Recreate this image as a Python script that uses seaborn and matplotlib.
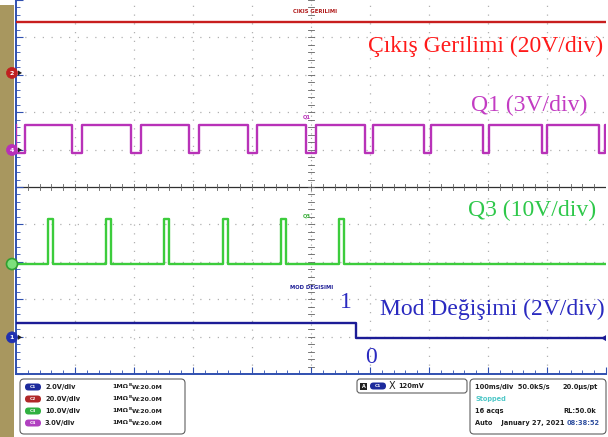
import numpy as np
import pandas as pd
import matplotlib
matplotlib.use("Agg")
import matplotlib.pyplot as plt
from matplotlib.patches import FancyBboxPatch, Circle, Polygon, Rectangle
import seaborn as sns

# ---------------- data (in screen divisions) ----------------
channels = ["C2", "C4", "C3", "C1"]
red_level = 4.41
q1_high = 1.66
q1_low = 0.91
q1_low_intervals = [(0.0, 0.15), (0.95, 1.12), (1.95, 2.12), (2.93, 3.10), (3.93, 4.08),
                    (4.92, 5.08), (5.92, 6.05), (6.92, 7.03), (7.915, 8.02), (8.92, 9.0),
                    (9.88, 9.98)]
q3_base = -2.06
q3_high = -0.86
q3_pulses = [(0.54, 0.63), (1.53, 1.61), (2.51, 2.59), (3.51, 3.59), (4.49, 4.58), (5.47, 5.56)]
mod_high = -3.64
mod_low = -4.04
mod_switch = 5.76
marker_levels = {"C2": 3.05, "C4": 0.99, "C3": -2.06, "C1": -4.02}
scale_labels = ["2.0V/div", "20.0V/div", "10.0V/div", "3.0V/div"]

# ---------------- build traces ----------------
def square(base, active, intervals, t0=0.0, t1=10.0):
    t = [t0]
    v = [base]
    for a, b in intervals:
        t += [a, a, b, b]
        v += [base, active, active, base]
    t.append(t1)
    v.append(base)
    return t, v

frames = []
t, v = [0.0, 10.0], [red_level, red_level]
frames.append(pd.DataFrame({"t": t, "v": v, "ch": "C2"}))
t, v = square(q1_high, q1_low, q1_low_intervals)
frames.append(pd.DataFrame({"t": t, "v": v, "ch": "C4"}))
t, v = square(q3_base, q3_high, q3_pulses)
frames.append(pd.DataFrame({"t": t, "v": v, "ch": "C3"}))
t, v = [0.0, mod_switch, mod_switch, 10.0], [mod_high, mod_high, mod_low, mod_low]
frames.append(pd.DataFrame({"t": t, "v": v, "ch": "C1"}))
df = pd.concat(frames, ignore_index=True)

palette = {"C2": "#c81e1e", "C4": "#b832b8", "C3": "#3ccc3c", "C1": "#1c1c96"}

W, H = 608, 437
fig = plt.figure(figsize=(W / 100, H / 100), dpi=100)
fig.patch.set_facecolor("white")

L, R, T, B = 16, 606, 0, 374
ax = fig.add_axes([L / W, 1 - B / H, (R - L) / W, (B - T) / H])
ax.set_xlim(0, 10)
ax.set_ylim(-5, 5)
ax.set_facecolor("white")

# grid
for k in range(1, 10):
    if k != 5:
        ax.axvline(k, color="#b0b0b0", lw=0.9, ls=(0, (1, 6)), zorder=0)
        ax.axhline(k - 5, color="#b0b0b0", lw=0.9, ls=(0, (1, 6)), zorder=0)
ax.axhline(0, color="#303030", lw=0.9, zorder=0)
ax.axvline(5, color="#a0a0a0", lw=0.8, ls=(0, (1, 3)), zorder=0)
for m in np.arange(0, 10.01, 0.2):
    ax.plot([m, m], [-0.07, 0.07], color="#606060", lw=0.6, zorder=0)
    ax.plot([4.95, 5.05], [m - 5, m - 5], color="#606060", lw=0.6, zorder=0)

sns.lineplot(data=df, x="t", y="v", hue="ch", palette=palette, estimator=None,
             sort=False, legend=False, lw=1.7, ax=ax, zorder=3)

ax.set_xlabel("")
ax.set_ylabel("")
ax.set_xticks(np.arange(0, 10.01, 1))
ax.set_xticks(np.arange(0, 10.01, 0.2), minor=True)
ax.set_yticks(np.arange(-5, 5.01, 1))
ax.set_yticks(np.arange(-5, 5.01, 0.2), minor=True)
ax.tick_params(which="both", direction="in", labelbottom=False, labelleft=False,
               color="#3050b0", top=False, right=False)
ax.tick_params(which="major", length=5, width=0.8)
ax.tick_params(which="minor", length=3, width=0.6)
for s in ["top", "right"]:
    ax.spines[s].set_visible(False)
for s in ["left", "bottom"]:
    ax.spines[s].set_color("#3050b0")
    ax.spines[s].set_linewidth(1.4)

# annotations
serif = "Liberation Serif"
ax.text(9.95, 3.77, "Çıkış Gerilimi (20V/div)", color="#ff1a1a", fontsize=17,
        family=serif, ha="right", va="center", zorder=5)
ax.text(9.69, 2.19, "Q1 (3V/div)", color="#c33cc3", fontsize=17,
        family=serif, ha="right", va="center", zorder=5)
ax.text(9.83, -0.64, "Q3 (10V/div)", color="#2ec84a", fontsize=17,
        family=serif, ha="right", va="center", zorder=5)
ax.text(9.98, -3.26, "Mod Değişimi (2V/div)", color="#2a2ac0", fontsize=17,
        family=serif, ha="right", va="center", zorder=5)
ax.text(5.59, -3.10, "1", color="#2a2ac0", fontsize=17, family=serif,
        ha="center", va="center", zorder=5)
ax.text(6.02, -4.57, "0", color="#2a2ac0", fontsize=17, family=serif,
        ha="center", va="center", zorder=5)

small = dict(fontsize=3.8, fontweight="bold", zorder=5, va="center")
ax.text(4.69, 4.68, "CIKIS GERILIMI", color="#b01818", **small)
ax.text(4.86, 1.87, "Q1", color="#b832b8", **small)
ax.text(4.86, -0.78, "Q3", color="#3cb03c", **small)
ax.text(4.64, -2.70, "MOD DEGISIMI", color="#1c1c96", **small)

# ---------------- overlay in pixel coordinates ----------------
ov = fig.add_axes([0, 0, 1, 1], zorder=10)
ov.set_xlim(0, W)
ov.set_ylim(H, 0)
ov.axis("off")
ov.patch.set_alpha(0)

ov.add_patch(Rectangle((0, 5), 14, H - 5, facecolor="#a8975f", edgecolor="none"))

def ypx(level):
    return (5 - level) * (B - T) / 10 + T

mk = {"C2": ("2", "#c02020"), "C4": ("4", "#b830b8"), "C3": ("", "#40c040"), "C1": ("1", "#2030b0")}
for ch in channels:
    y = ypx(marker_levels[ch])
    lab, col = mk[ch]
    if ch == "C3":
        ov.add_patch(Circle((12, y), 5.5, facecolor="#7de07d", edgecolor="#30a030", lw=1.2))
    else:
        ov.add_patch(Circle((12, y), 5.5, facecolor=col, edgecolor=col, lw=0.5))
        ov.text(12, y + 0.3, lab, color="white", fontsize=4.5, fontweight="bold",
                ha="center", va="center")
        ov.add_patch(Polygon([[18, y - 2.5], [18, y + 2.5], [22, y]], closed=True,
                             facecolor="#202020", edgecolor="none"))
# right side trigger arrow on blue trace
ov.add_patch(Polygon([[606, ypx(mod_low) - 3], [606, ypx(mod_low) + 3], [601, ypx(mod_low)]],
                     closed=True, facecolor="#1c1c96", edgecolor="none"))

# channel box
ov.add_patch(FancyBboxPatch((20, 379), 165, 55, boxstyle="round,pad=0,rounding_size=4",
                            facecolor="white", edgecolor="#606060", lw=0.8))
pill_cols = ["#1c2a9c", "#b02828", "#30b040", "#b040c0"]
pill_labs = ["C1", "C2", "C3", "C4"]
rows = [387, 399, 411, 423]
for y, pc, pl, sl in zip(rows, pill_cols, pill_labs, scale_labels):
    ov.add_patch(FancyBboxPatch((25, y - 3.5), 16, 7, boxstyle="round,pad=0,rounding_size=3.5",
                                facecolor=pc, edgecolor="none"))
    ov.text(33, y, pl, color="white", fontsize=3.2, fontweight="bold", ha="center", va="center")
    ov.text(45, y, sl, color="#202020", fontsize=4.8, fontweight="bold", va="center")
    ov.text(112, y, "1MΩ", color="#202020", fontsize=4.5, fontweight="bold", va="center")
    ov.text(128.5, y - 2.0, "B", color="#202020", fontsize=3.0, fontweight="bold", va="center")
    ov.text(132, y + 0.5, "W:20.0M", color="#202020", fontsize=4.5, fontweight="bold", va="center")

# trigger box
ov.add_patch(FancyBboxPatch((357, 379), 110, 14, boxstyle="round,pad=0,rounding_size=3",
                            facecolor="white", edgecolor="#606060", lw=0.8))
ov.add_patch(Rectangle((360, 382.5), 7, 7, facecolor="#202020", edgecolor="none"))
ov.text(363.5, 386.2, "A", color="white", fontsize=3.5, fontweight="bold", ha="center", va="center")
ov.add_patch(FancyBboxPatch((370, 382.5), 16, 7, boxstyle="round,pad=0,rounding_size=3.5",
                            facecolor="#1c2a9c", edgecolor="none"))
ov.text(378, 386, "C1", color="white", fontsize=3.2, fontweight="bold", ha="center", va="center")
ov.text(389, 386, "X", color="#202020", fontsize=7, ha="left", va="center")
ov.text(398, 386, "120mV", color="#202020", fontsize=4.8, fontweight="bold", va="center")

# timebase box
ov.add_patch(FancyBboxPatch((470, 379), 136, 55, boxstyle="round,pad=0,rounding_size=4",
                            facecolor="white", edgecolor="#606060", lw=0.8))
tb = dict(fontsize=4.8, fontweight="bold", va="center", color="#202020")
ov.text(475, 387, "100ms/div  50.0kS/s", **tb)
ov.text(598, 387, "20.0μs/pt", ha="right", **tb)
ov.text(475, 399, "Stopped", fontsize=4.8, fontweight="bold", va="center", color="#50c8c8")
ov.text(475, 411, "16 acqs", **tb)
ov.text(596, 411, "RL:50.0k", ha="right", **tb)
ov.text(475, 423, "Auto    January 27, 2021", **tb)
ov.text(600, 423, "08:38:52", ha="right", fontsize=4.8, fontweight="bold", va="center",
        color="#3050a0")

fig.savefig("out.png", dpi=100, facecolor="white")
